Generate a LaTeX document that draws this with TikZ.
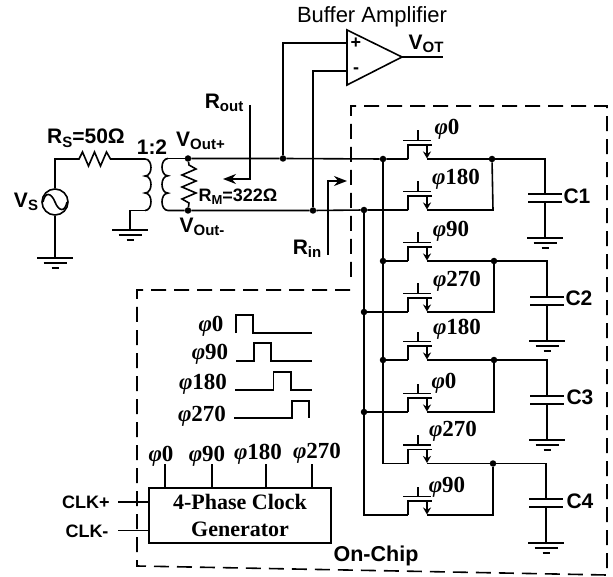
\documentclass[tikz,border=0pt]{standalone}
\usepackage{fontspec}
\setmainfont{Liberation Serif}
\setsansfont{Liberation Sans}
\usetikzlibrary{arrows.meta}
\newcommand{\sbf}[1]{\sffamily\bfseries\fontsize{#1}{#1}\selectfont}
\newcommand{\lbl}[2]{{\sbf{21}#1\raisebox{-3.5pt}{\sbf{15}#2}}}
\newcommand{\ph}[1]{{\rmfamily\bfseries\fontsize{23}{23}\selectfont\textit{φ}#1}}
\newcommand{\gnd}[1]{\draw[wire] (#1) ++(-18,0) -- ++(36,0) (#1) ++(-11.5,5) -- ++(23,0) (#1) ++(-3.5,10) -- ++(7,0);}
% \fet{name}{row y}
\newcommand{\fet}[2]{%
 \coordinate (#1s) at (408,#2);
 \coordinate (#1d) at (427,#2);
 \draw[wire] (#1s) -- ++(0,-14) -- ++(24,0);
 \draw[wire] (403,#2-18.5) -- ++(28,0);
 \draw[wire] (418,#2-18.5) -- ++(0,-10);
 \draw[wire,-{Stealth[length=7pt,width=8pt]}] (#1d) ++(0,-14) -- ++(0,13.5);
}
\newcommand{\capa}[3]{% name, x, top y of plates; lower plate +8
 \coordinate (#1t) at (#2,#3);
 \coordinate (#1b) at (#2,#3+8);
 \draw[wire] (#2-17,#3) -- (#2+17,#3) (#2-17,#3+8) -- (#2+17,#3+8);
}
\tikzset{
 wire/.style={line width=1.6pt,line cap=butt},
 dotn/.style={circle,fill=black,inner sep=0pt,minimum size=6.5pt},
 dash box/.style={line width=1.6pt,dash pattern=on 15pt off 8pt},
 rm/.style={font=\rmfamily\bfseries\fontsize{22}{27}\selectfont,inner sep=0pt,align=center},
 phl/.style={inner sep=0pt},
 phs/.style={inner sep=0pt,yshift=-1.5pt},
 bighead/.style={-{Stealth[length=13pt,width=10pt]}},
}
\begin{document}
\begin{tikzpicture}[x=1pt,y=-1pt]
\useasboundingbox (0,0) rectangle (613,577);
% dashed outline
\draw[dash box] (350,290) -- (137,290) -- (137,566) -- (607,575) -- (607,106) -- (351,106) -- (351,283);
% source
\node[draw,circle,line width=1.6pt,minimum size=26pt,inner sep=0pt] (vs) at (55,202) {};
\draw[wire] (43,202) .. controls +(2,-10) and +(-4,-10) .. (55,202) .. controls +(4,10) and +(-2,10) .. (67,202);
\coordinate (vg) at (55,258);
\draw[wire] (vs) -- (vg); \gnd{vg}
\coordinate (rs1) at (79,159); \coordinate (rs2) at (114,159);
\draw[wire] (vs) -- (55,159) -- (rs1) -- ++(3.5,-7) -- ++(6,14) -- ++(6,-14) -- ++(6,14) -- ++(6,-14) -- ++(4,7) -- (rs2) -- (145,159);
% primary
\draw[wire] (145,159) .. controls +(8,0) and +(8,0) .. ++(0,17) .. controls +(8,0) and +(8,0) .. ++(0,17) .. controls +(8,0) and +(8,0) .. ++(0,17.5) coordinate (pb);
\coordinate (pg) at (130,230);
\draw[wire] (pb) -- (130,210.5) -- (pg); \gnd{pg}
% secondary
\node[dotn] (vp) at (188,158.5) {};
\node[dotn] (vm) at (188,210.5) {};
\draw[wire] (168,158.5) .. controls +(-8,0) and +(-8,0) .. ++(0,17.3) .. controls +(-8,0) and +(-8,0) .. ++(0,17.3) .. controls +(-8,0) and +(-8,0) .. ++(0,17.4) -- (vm);
\draw[wire] (168,158.5) -- (vp);
\draw[wire] (vp) -- (189,165) -- ++(7,4) -- ++(-14,6) -- ++(14,6) -- ++(-14,6) -- ++(14,6) -- ++(-14,6) -- ++(7,4) -- (vm);
% fets
\fet{a}{159}\fet{b}{210}\fet{c}{261}\fet{d}{312}\fet{e}{360}\fet{f}{412}\fet{g}{463.5}\fet{h}{515}
% rails
\node[dotn] (n1) at (383,159) {};
\node[dotn] (n3) at (383,261) {};
\node[dotn] (n5) at (383,360) {};
\node[dotn] (m2) at (364,210) {};
\node[dotn] (m4) at (364,312) {};
\node[dotn] (m6) at (364,412) {};
\node[dotn] (tp) at (283,158.5) {};
\node[dotn] (tm) at (313,210.5) {};
\draw[wire] (vp) -- (tp) -- (n1) -- (as);
\draw[wire] (vm) -- (tm) -- (m2) -- (bs);
\draw[wire] (n1) -- (n3) -- (n5) -- (383,463.5) -- (gs);
\draw[wire] (m2) -- (m4) -- (m6) -- (364,515) -- (hs);
\draw[wire] (n3) -- (cs) (n5) -- (es) (m4) -- (ds) (m6) -- (fs);
% caps and drains
\node[dotn] (j1) at (492,159) {};
\node[dotn] (j2) at (494,261) {};
\node[dotn] (j3) at (494,360) {};
\node[dotn] (j4) at (493,463.5) {};
\capa{A}{545}{194}\capa{B}{547}{297}\capa{C}{547}{396}\capa{D}{546}{499}
\coordinate (gnda) at (545,238); \coordinate (gndb) at (547,341); \coordinate (gndc) at (547,440); \coordinate (gndd) at (546,543);
\draw[wire] (ad) -- (j1) -- (545,159) -- (At) (Ab) -- (gnda); \gnd{gnda}
\draw[wire] (bd) -- (493,210) -- (j1);
\draw[wire] (cd) -- (j2) -- (547,261) -- (Bt) (Bb) -- (gndb); \gnd{gndb}
\draw[wire] (dd) -- (494,312) -- (j2);
\draw[wire] (ed) -- (j3) -- (547,360) -- (Ct) (Cb) -- (gndc); \gnd{gndc}
\draw[wire] (fd) -- (494,412) -- (j3);
\draw[wire] (gd) -- (j4) -- (546,463.5) -- (Dt) (Db) -- (gndd); \gnd{gndd}
\draw[wire] (hd) -- (493,515) -- (j4);
% amp
\node[inner sep=0pt] (ampl) at (372,17) {\sffamily\fontsize{22}{22}\selectfont Buffer Amplifier};
\coordinate (ai1) at (347,43); \coordinate (ai2) at (347,71); \coordinate (ao) at (402,57); \coordinate (vot) at (443,57);
\draw[wire,line join=miter] (347,30) -- (402,57) -- (347,85) -- cycle;
\draw[wire] (tp) -- (283,43) -- (ai1);
\draw[wire] (tm) -- (313,71) -- (ai2);
\draw[wire] (ao) -- (vot);
\node[phl] (plus) at (356,43) {\sbf{18}+};
\node[phl] (minus) at (356,71) {\sbf{18}-};
\node[phl] (votl) at (426,44) {\lbl{V}{OT}};
% R arrows
\coordinate (ro) at (250,105); \coordinate (rot) at (223,179);
\draw[wire,bighead] (ro) -- (250,179) -- (rot);
\coordinate (ri) at (328,255); \coordinate (rit) at (347,181);
\draw[wire,bighead] (ri) -- (328,181) -- (rit);
% labels
\node[phl] (lro) at (224,103) {\lbl{R}{out}};
\node[phl] (lri) at (307,249) {\lbl{R}{in}};
\node[phl] (lrs) at (86,138) {\lbl{R}{S}\sbf{21}=50Ω};
\node[phl] (lvs) at (26,202) {\lbl{V}{S}};
\node[phl] (l12) at (152,147) {\sbf{21}1:2};
\node[phl] (lvp) at (200.5,141) {\lbl{V}{Out+}};
\node[phl] (lvm) at (202,227) {\lbl{V}{Out-}};
\node[phl] (lrm) at (238,197) {\sbf{18}R\raisebox{-3pt}{\sbf{13}M}=322Ω};
\node[phl] (c1) at (577,196) {\sbf{21}C1};
\node[phl] (c2) at (579,298) {\sbf{21}C2};
\node[phl] (c3) at (580,397) {\sbf{21}C3};
\node[phl] (c4) at (580,501) {\sbf{21}C4};
\node[phl] (oc) at (376,556) {\sbf{21.5}On-Chip};
% phase labels at fets
\node[phs] (pa) at (447,128) {\ph{0}};
\node[phs] (pb2) at (456,178) {\ph{180}};
\node[phs] (pc) at (451,230) {\ph{90}};
\node[phs] (pd) at (457,280) {\ph{270}};
\node[phs] (pe) at (457,328) {\ph{180}};
\node[phs] (pf) at (444,382) {\ph{0}};
\node[phs] (pg2) at (453,430) {\ph{270}};
\node[phs] (ph) at (447,486) {\ph{90}};
% waveforms
\draw[wire] (236,333) -- (236,315) -- (253,315) -- (253,333) -- (312,333);
\draw[wire] (236,361) -- (254,361) -- (254,343) -- (271,343) -- (271,361) -- (312,361);
\draw[wire] (235,390) -- (273.5,390) -- (273.5,372) -- (291,372) -- (291,390) -- (312,390);
\draw[wire] (234,418) -- (292,418) -- (292,401) -- (309,401) -- (309,418);
\node[phs] (w0) at (211,325) {\ph{0}};
\node[phs] (w90) at (210,353) {\ph{90}};
\node[phs] (w180) at (203,383) {\ph{180}};
\node[phs] (w270) at (202,415) {\ph{270}};
% clock generator
\node[draw,line width=1.6pt,minimum width=182pt,minimum height=55pt,inner sep=0pt,rm] (gen) at (240,515.5) {4-Phase Clock\\Generator};
\foreach \x/\n in {165/a,212/b,266/c,312/d}{ \coordinate (st\n) at (\x,464); \draw[wire] (st\n) -- (\x,488); }
\node[phs] (o0) at (161,455) {\ph{0}};
\node[phs] (o90) at (207,455) {\ph{90}};
\node[phs] (o180) at (258,453) {\ph{180}};
\node[phs] (o270) at (317,452) {\ph{270}};
\coordinate (cp) at (118,502); \coordinate (cm) at (118,530.5);
\draw[wire] (cp) -- (cp -| gen.west);
\draw[wire] (cm) -- (cm -| gen.west);
\node[phl] (lcp) at (86,502) {\sbf{18}CLK+};
\node[phl] (lcm) at (87,531) {\sbf{18}CLK-};
\end{tikzpicture}
\end{document}
